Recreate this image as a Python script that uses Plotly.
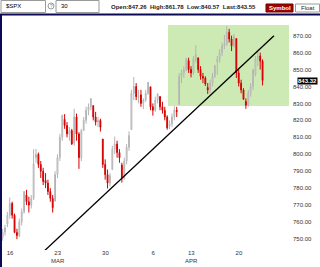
import plotly.graph_objects as go

# trading-day index of each day (Mar 13 = -1, Mar 16 = 0, ...), 4 bars per day
day_index = list(range(-1, 27))
bars_per_day = 4

opens = [
    752, 746, 751, 754,          # Mar 13
    758.8, 764, 771, 764,        # Mar 16
    753.9, 752, 760, 766,        # Mar 17
    776, 772, 770, 774,          # Mar 18
    797.9, 800, 794, 790,        # Mar 19
    784.6, 783, 778, 774,        # Mar 20
    772.3, 788, 798, 810,        # Mar 23
    820.6, 817, 812, 814,        # Mar 24
    806.8, 822, 812, 798,        # Mar 25
    814, 820, 826, 828,          # Mar 26
    828.7, 822, 819, 820,        # Mar 27
    809, 794, 788, 783,          # Mar 30
    790.9, 803, 806, 801,        # Mar 31
    793.6, 786, 796, 804,        # Apr 1
    814.5, 836, 840, 834,        # Apr 2
    835.1, 830, 832, 836,        # Apr 3
    839.8, 828, 826, 832,        # Apr 6
    834.1, 828, 826, 822,        # Apr 7
    816.8, 818, 822, 826,        # Apr 8
    829.3, 846, 848, 850,        # Apr 9
    855.3, 850, 848, 856,        # Apr 13
    856.9, 850, 846, 845,        # Apr 14
    839.4, 838, 842, 846,        # Apr 15
    854.5, 856, 860, 864,        # Apr 16
    865.2, 872, 868, 864,        # Apr 17
    868.3, 848, 842, 838,        # Apr 20
    831.3, 829, 836, 840,        # Apr 21
    847.3, 856, 858, 855,        # Apr 22
]
highs = [
    753, 752, 756, 758.3,
    766, 774.5, 772, 765,
    756, 762, 768, 778.1,
    779, 775, 776, 803,
    803.2, 801, 796, 792,
    788.9, 785, 780, 776,
    790, 800, 812, 823.4,
    823.7, 819, 816, 815,
    826.8, 824, 813, 815,
    822, 828, 830, 833,
    828.7, 825, 822, 821,
    809, 797, 791, 789,
    805, 810.5, 808, 803,
    795, 798, 806, 813.6,
    838, 845.6, 842, 838,
    838, 833, 838, 842.5,
    839.8, 830, 834, 836,
    834.1, 831, 828, 823,
    820, 824, 828.4, 828,
    848, 850, 852, 856.9,
    857, 852, 858, 864.3,
    856.9, 852, 848, 846,
    842, 844, 848, 852.9,
    858, 862, 866, 870.4,
    875.6, 874, 870, 871,
    868.3, 850, 844, 839,
    833, 838, 842, 850.1,
    858, 861.8, 860, 856,
]
lows = [
    742.5, 745, 749, 752,
    757, 762, 762, 753.4,
    749.9, 751, 758, 765,
    770, 765.6, 768, 773,
    795, 792, 786, 781.8,
    780, 776, 772, 765.6,
    772.3, 786, 796, 808,
    815, 810, 808, 805.5,
    805, 808, 791.4, 796,
    814, 818, 823, 826,
    820, 817, 816, 813.4,
    792, 785, 779.8, 781,
    790.9, 800, 798, 795,
    783.3, 785, 794, 802,
    814.5, 832, 832, 830,
    828, 826.7, 831, 835,
    826, 822.8, 825, 830,
    826, 824, 820, 814.5,
    814.8, 816, 820, 822,
    829.3, 842, 845, 849,
    848, 845.4, 847, 854,
    848, 844, 842, 840.3,
    835.6, 836, 840, 845,
    847, 854, 858, 862,
    864, 866, 860.9, 863,
    845, 840, 836, 832.4,
    826.8, 828, 834, 838,
    846, 852, 850, 840.6,
]
closes = [
    746, 751, 754, 756.5,
    764, 771, 764, 753.9,
    752, 760, 766, 778.1,
    772, 770, 774, 794.4,
    800, 794, 790, 784,
    783, 778, 774, 768.5,
    788, 798, 810, 822.9,
    817, 812, 814, 806.1,
    822, 812, 798, 813.9,
    820, 826, 828, 832.9,
    822, 819, 820, 815.9,
    794, 788, 783, 787.5,
    803, 806, 801, 797.9,
    786, 796, 804, 811.1,
    836, 840, 834, 834.4,
    830, 832, 836, 842.5,
    828, 826, 832, 835.5,
    828, 826, 822, 815.6,
    818, 822, 826, 825.2,
    846, 848, 850, 856.6,
    850, 848, 856, 858.7,
    850, 846, 845, 841.5,
    838, 842, 846, 852.1,
    856, 860, 864, 865.3,
    872, 868, 864, 869.6,
    848, 842, 838, 832.4,
    829, 836, 840, 850.1,
    856, 858, 855, 843.6,
]

tick_days = [0, 5, 10, 15, 19, 24]
tick_text = ["16", "23<br>MAR", "30", "6", "13<br>APR", "20"]
y_ticks = [750, 760, 770, 780, 790, 800, 810, 820, 830, 840, 850, 860, 870]

trend_x = [3.72, 28.07]
trend_y = [741.5, 870.0]
zone_x = [16.96, 29.65]
zone_y = [828.5, 876.3]
last_label = 843.32
header_text = "Open:847.26  High:861.78  Low:840.57  Last:843.55"

x_vals = []
for d in day_index:
    for k in range(bars_per_day):
        x_vals.append(d + (k + 0.5) / bars_per_day)

FONT = "Liberation Sans"

fig = go.Figure()
fig.add_trace(go.Candlestick(
    x=x_vals, open=opens, high=highs, low=lows, close=closes,
    increasing=dict(line=dict(color="#b4b4b4", width=1), fillcolor="#ffffff"),
    decreasing=dict(line=dict(color="#d40000", width=1), fillcolor="#e00000"),
    whiskerwidth=0, showlegend=False, hoverinfo="skip",
))
fig.add_trace(go.Scatter(
    x=trend_x, y=trend_y, mode="lines",
    line=dict(color="#000000", width=1.3), showlegend=False, hoverinfo="skip",
))

def px_x(px):
    return (px - 2) / 290.0

def px_y(py):
    return (250 - py) / 234.0

shapes = [
    dict(type="rect", xref="x", yref="y", x0=zone_x[0], x1=zone_x[1],
         y0=zone_y[0], y1=zone_y[1], fillcolor="#cdeab4", line=dict(width=0),
         layer="below"),
    # navy header rule
    dict(type="rect", xref="paper", yref="paper", x0=px_x(0), x1=px_x(320),
         y0=px_y(15.5), y1=px_y(13.5), fillcolor="#0b0b55", line=dict(width=0)),
    # left border
    dict(type="rect", xref="paper", yref="paper", x0=px_x(0), x1=px_x(2),
         y0=px_y(267), y1=px_y(14), fillcolor="#0b0b55", line=dict(width=0)),
    # symbol input box
    dict(type="rect", xref="paper", yref="paper", x0=px_x(1), x1=px_x(45.5),
         y0=px_y(12.5), y1=px_y(0.5), fillcolor="#ffffff",
         line=dict(color="#9a9a9a", width=1)),
    # help icon
    dict(type="circle", xref="paper", yref="paper", x0=px_x(48), x1=px_x(54),
         y0=px_y(9), y1=px_y(3), fillcolor="#ffffff",
         line=dict(color="#9a9a9a", width=1)),
    # period input box
    dict(type="rect", xref="paper", yref="paper", x0=px_x(56), x1=px_x(99),
         y0=px_y(12.5), y1=px_y(0.5), fillcolor="#ffffff",
         line=dict(color="#9a9a9a", width=1)),
    # Symbol button
    dict(type="rect", xref="paper", yref="paper", x0=px_x(266), x1=px_x(293),
         y0=px_y(12), y1=px_y(4), fillcolor="#a00000",
         line=dict(color="#700000", width=1)),
    # Float button
    dict(type="rect", xref="paper", yref="paper", x0=px_x(295.5), x1=px_x(319.5),
         y0=px_y(12), y1=px_y(4), fillcolor="#ffffff",
         line=dict(color="#9a9a9a", width=1)),
]

annotations = [
    dict(xref="paper", yref="paper", x=px_x(4), y=px_y(6.5), text="$SPX",
         showarrow=False, xanchor="left", yanchor="middle",
         font=dict(family=FONT, size=6, color="#000000")),
    dict(xref="paper", yref="paper", x=px_x(51), y=px_y(6), text="?",
         showarrow=False, xanchor="center", yanchor="middle",
         font=dict(family=FONT, size=5, color="#888888")),
    dict(xref="paper", yref="paper", x=px_x(59), y=px_y(6.5), text="30",
         showarrow=False, xanchor="left", yanchor="middle",
         font=dict(family=FONT, size=6, color="#000000")),
    dict(xref="paper", yref="paper", x=px_x(183), y=px_y(7.5), text="<b>" + header_text + "</b>",
         showarrow=False, xanchor="center", yanchor="middle",
         font=dict(family=FONT, size=6, color="#222222")),
    dict(xref="paper", yref="paper", x=px_x(279.5), y=px_y(8), text="<b>Symbol</b>",
         showarrow=False, xanchor="center", yanchor="middle",
         font=dict(family=FONT, size=6, color="#ffffff")),
    dict(xref="paper", yref="paper", x=px_x(307.5), y=px_y(8), text="Float",
         showarrow=False, xanchor="center", yanchor="middle",
         font=dict(family=FONT, size=6, color="#222222")),
    dict(xref="paper", yref="y", x=px_x(297), y=last_label, text="<b>%.2f</b>" % last_label,
         showarrow=False, xanchor="left", yanchor="middle", bgcolor="#000000",
         borderpad=0, font=dict(family=FONT, size=6, color="#ffffff")),
]

fig.update_layout(
    width=320, height=267,
    margin=dict(l=2, r=28, t=16, b=17),
    paper_bgcolor="#ffffff", plot_bgcolor="#ffffff",
    boxgap=0.5,
    shapes=shapes, annotations=annotations,
    xaxis=dict(
        range=[-0.44, 29.96], showgrid=False, zeroline=False, showline=False,
        tickmode="array", tickvals=[d + 0.4 for d in tick_days], ticktext=tick_text,
        ticks="", ticklen=0, ticklabelstandoff=-2, rangeslider=dict(visible=False),
        tickfont=dict(family=FONT, size=6, color="#333333"),
    ),
    yaxis=dict(
        range=[743.5, 881.6], side="right", showgrid=False, zeroline=False,
        showline=False, tickmode="array", tickvals=y_ticks,
        ticktext=["%.2f" % v for v in y_ticks], ticks="",
        tickfont=dict(family=FONT, size=6, color="#333333"),
    ),
)

fig.write_html("out.html")
